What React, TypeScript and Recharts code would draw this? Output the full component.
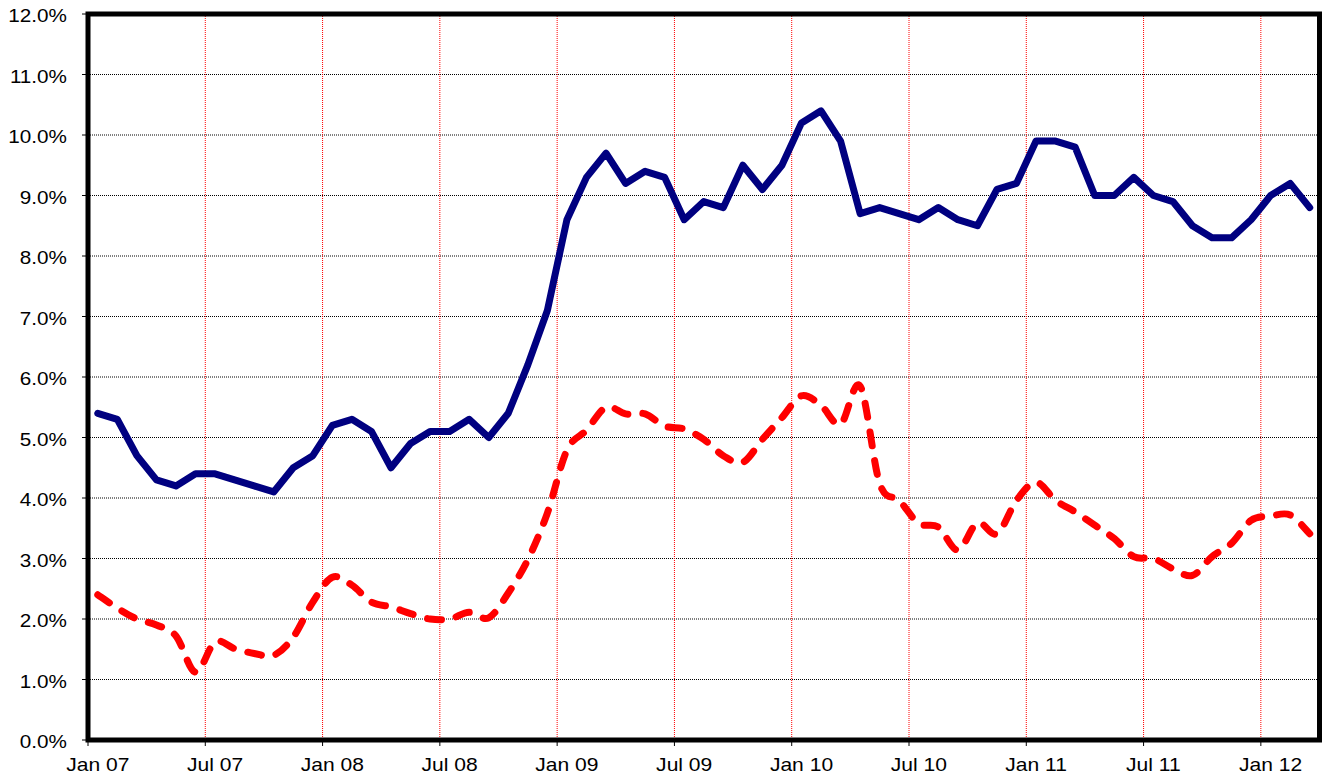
import React from "react";
import { LineChart, Line, XAxis, YAxis, CartesianGrid, ReferenceArea } from "recharts";

const months = [
  "Jan 07", "Feb 07", "Mar 07", "Apr 07", "May 07", "Jun 07", "Jul 07", "Aug 07", "Sep 07", "Oct 07", "Nov 07", "Dec 07",
  "Jan 08", "Feb 08", "Mar 08", "Apr 08", "May 08", "Jun 08", "Jul 08", "Aug 08", "Sep 08", "Oct 08", "Nov 08", "Dec 08",
  "Jan 09", "Feb 09", "Mar 09", "Apr 09", "May 09", "Jun 09", "Jul 09", "Aug 09", "Sep 09", "Oct 09", "Nov 09", "Dec 09",
  "Jan 10", "Feb 10", "Mar 10", "Apr 10", "May 10", "Jun 10", "Jul 10", "Aug 10", "Sep 10", "Oct 10", "Nov 10", "Dec 10",
  "Jan 11", "Feb 11", "Mar 11", "Apr 11", "May 11", "Jun 11", "Jul 11", "Aug 11", "Sep 11", "Oct 11", "Nov 11", "Dec 11",
  "Jan 12", "Feb 12", "Mar 12",
];

// solid navy series
const blue = [
  5.4, 5.3, 4.7, 4.3, 4.2, 4.4, 4.4, 4.3, 4.2, 4.1, 4.5, 4.7,
  5.2, 5.3, 5.1, 4.5, 4.9, 5.1, 5.1, 5.3, 5.0, 5.4, 6.2, 7.1,
  8.6, 9.3, 9.7, 9.2, 9.4, 9.3, 8.6, 8.9, 8.8, 9.5, 9.1, 9.5,
  10.2, 10.4, 9.9, 8.7, 8.8, 8.7, 8.6, 8.8, 8.6, 8.5, 9.1, 9.2,
  9.9, 9.9, 9.8, 9.0, 9.0, 9.3, 9.0, 8.9, 8.5, 8.3, 8.3, 8.6,
  9.0, 9.2, 8.8,
];

// dashed red series (smoothed)
const red = [
  2.4, 2.18, 2.0, 1.9, 1.72, 1.12, 1.62, 1.51, 1.43, 1.4, 1.7, 2.28,
  2.69, 2.56, 2.28, 2.2, 2.09, 2.0, 2.0, 2.11, 2.02, 2.43, 2.98, 3.75,
  4.79, 5.12, 5.5, 5.39, 5.39, 5.19, 5.14, 4.97, 4.7, 4.59, 4.97, 5.33,
  5.69, 5.53, 5.22, 5.85, 4.24, 3.96, 3.58, 3.52, 3.14, 3.59, 3.41, 3.96,
  4.26, 3.96, 3.77, 3.55, 3.33, 3.03, 3.0, 2.83, 2.72, 3.03, 3.25, 3.63,
  3.7, 3.72, 3.41,
];

const yTicks = [0, 1, 2, 3, 4, 5, 6, 7, 8, 9, 10, 11, 12];
// labelled months (every six months)
const labelMonths = ["Jan 07", "Jul 07", "Jan 08", "Jul 08", "Jan 09", "Jul 09", "Jan 10", "Jul 10", "Jan 11", "Jul 11", "Jan 12"];

const data = months.map((m, i) => ({ idx: i, month: m, blue: blue[i], red: red[i] }));

// tick marks / gridlines sit on the boundary before each labelled month
const xTicks = labelMonths.map((m) => months.indexOf(m) - 0.5);

const W = 1326;
const H = 777;
const LEFT = 88;
const RIGHT = 6.5;
const HALF_STEP = (W - LEFT - RIGHT) / months.length / 2;
const FONT = "'Liberation Sans', Arial, sans-serif";

// Excel-like smoothing (Catmull-Rom through the points)
const smooth = (context: any) => {
  let pts: number[][] = [];
  return {
    areaStart() {},
    areaEnd() {},
    lineStart() {
      pts = [];
    },
    point(x: number, y: number) {
      pts.push([+x, +y]);
    },
    lineEnd() {
      if (!pts.length) return;
      context.moveTo(pts[0][0], pts[0][1]);
      for (let i = 0; i < pts.length - 1; i++) {
        const p0 = pts[i - 1] || pts[i];
        const p1 = pts[i];
        const p2 = pts[i + 1];
        const p3 = pts[i + 2] || p2;
        context.bezierCurveTo(
          p1[0] + (p2[0] - p0[0]) / 6,
          p1[1] + (p2[1] - p0[1]) / 6,
          p2[0] - (p3[0] - p1[0]) / 6,
          p2[1] - (p3[1] - p1[1]) / 6,
          p2[0],
          p2[1]
        );
      }
    },
  };
};

const XTick = (props: any) => {
  const { x, y, payload } = props;
  const label = months[Math.round(payload.value + 0.5)];
  return (
    <text
      transform={`translate(${x + HALF_STEP} ${y}) scale(1.17 1)`}
      dy={23.5}
      textAnchor="middle"
      fontFamily={FONT}
      fontSize={18}
      fill="#000"
    >
      {label}
    </text>
  );
};

const YTick = (props: any) => {
  const { x, y, payload } = props;
  return (
    <text
      transform={`translate(${x} ${y}) scale(1.15 1)`}
      dy={8}
      textAnchor="end"
      fontFamily={FONT}
      fontSize={18}
      fill="#000"
    >
      {`${payload.value.toFixed(1)}%`}
    </text>
  );
};

export default function App() {
  return (
    <div style={{ position: "absolute", left: 0, top: 0, background: "#fff" }}>
      <LineChart width={W} height={H} data={data} margin={{ top: 14, right: RIGHT, bottom: 0, left: 0 }}>
        <CartesianGrid horizontal={true} vertical={false} stroke="#000" strokeDasharray="1 1" />
        <CartesianGrid horizontal={false} vertical={true} stroke="#ff0000" strokeDasharray="1 1" />
        <XAxis
          type="number"
          dataKey="idx"
          domain={[-0.5, months.length - 0.5]}
          ticks={xTicks}
          interval={0}
          height={37}
          axisLine={false}
          tickLine={{ stroke: "#000" }}
          tickSize={6}
          tick={<XTick />}
        />
        <YAxis
          type="number"
          domain={[0, 12]}
          ticks={yTicks}
          interval={0}
          width={LEFT}
          axisLine={false}
          tickLine={{ stroke: "#000" }}
          tickSize={6}
          tickMargin={15}
          tick={<YTick />}
        />
        <ReferenceArea
          x1={-0.5}
          x2={months.length - 0.5}
          y1={0}
          y2={12}
          fill="none"
          fillOpacity={0}
          stroke="#000"
          strokeWidth={5}
          ifOverflow="visible"
        />
        <Line
          dataKey="red"
          type={smooth as any}
          stroke="#ff0000"
          strokeWidth={7}
          strokeDasharray="14 15"
          strokeLinecap="round"
          dot={false}
          activeDot={false}
          isAnimationActive={false}
        />
        <Line
          dataKey="blue"
          type="linear"
          stroke="#000080"
          strokeWidth={7}
          strokeLinejoin="round"
          strokeLinecap="round"
          dot={false}
          activeDot={false}
          isAnimationActive={false}
        />
      </LineChart>
    </div>
  );
}
